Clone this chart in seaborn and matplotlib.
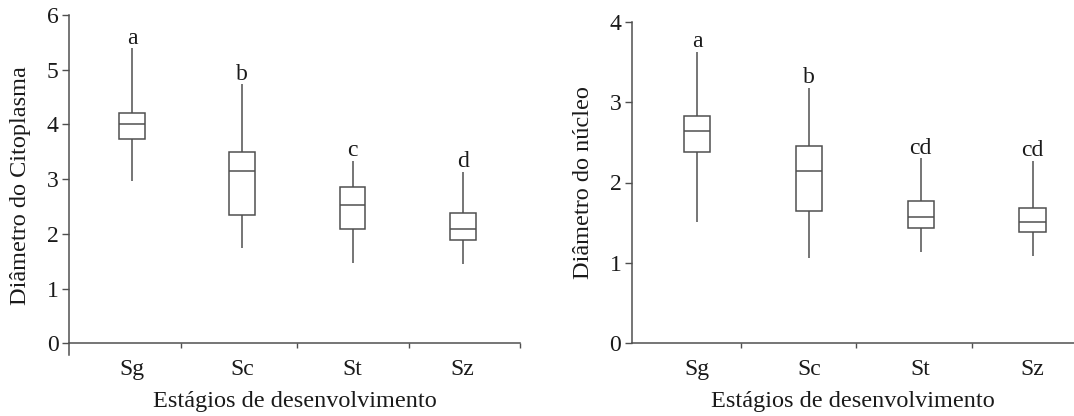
import numpy as np
import pandas as pd
import matplotlib
matplotlib.use("Agg")
import matplotlib.pyplot as plt
import seaborn as sns

# ---------------- data (five-number summaries: min, Q1, median, Q3, max) ----------------
stages = ["Sg", "Sc", "St", "Sz"]

cito_sg = [2.97, 3.74, 4.01, 4.21, 5.39]
cito_sc = [1.74, 2.35, 3.15, 3.50, 4.73]
cito_st = [1.46, 2.08, 2.52, 2.85, 3.33]
cito_sz = [1.44, 1.89, 2.08, 2.38, 3.13]
cito_letters = ["a", "b", "c", "d"]

nucl_sg = [1.51, 2.38, 2.64, 2.83, 3.62]
nucl_sc = [1.06, 1.65, 2.14, 2.45, 3.18]
nucl_st = [1.14, 1.44, 1.57, 1.77, 2.30]
nucl_sz = [1.09, 1.38, 1.51, 1.68, 2.27]
nucl_letters = ["a", "b", "cd", "cd"]

cito_yticks = [0, 1, 2, 3, 4, 5, 6]
nucl_yticks = [0, 1, 2, 3, 4]

xlabel = "Estágios de desenvolvimento"
cito_ylabel = "Diâmetro do Citoplasma"
nucl_ylabel = "Diâmetro do núcleo"


def long_form(groups):
    rows = []
    for st, vals in zip(stages, groups):
        for v in vals:
            rows.append({"stage": st, "value": v})
    return pd.DataFrame(rows)


cito_df = long_form([cito_sg, cito_sc, cito_st, cito_sz])
nucl_df = long_form([nucl_sg, nucl_sc, nucl_st, nucl_sz])

# ---------------- style ----------------
sns.set_theme(style="ticks")
plt.rcParams["font.family"] = ["Liberation Serif", "DejaVu Serif"]
LINE = "#4f4f4f"
TEXT = "#1a1a1a"
plt.rcParams["text.color"] = TEXT
plt.rcParams["axes.labelcolor"] = TEXT
plt.rcParams["xtick.color"] = LINE
plt.rcParams["ytick.color"] = LINE
plt.rcParams["xtick.labelcolor"] = TEXT
plt.rcParams["ytick.labelcolor"] = TEXT

W, H = 1074, 416
fig = plt.figure(figsize=(W / 100, H / 100), dpi=100)
fig.patch.set_facecolor("white")

ax1 = fig.add_axes([69.3 / W, 1 - 355.3 / H, (520 - 69.3) / W, (355.3 - 15) / H])
ax2 = fig.add_axes([632 / W, 1 - 343.3 / H, (1074 - 632) / W, (343.3 - 21.7) / H])


def draw(ax, df, groups, letters, yticks, ylim, xlim, minor, ylabel):
    sns.boxplot(data=df, x="stage", y="value", order=stages, ax=ax,
                whis=(0, 100), showfliers=False, showcaps=False,
                width=0.235, color="white", linecolor=LINE, linewidth=1.1)
    for i, (vals, lab) in enumerate(zip(groups, letters)):
        ax.annotate(lab, xy=(i, max(vals)), xytext=(0, 3.5),
                    textcoords="offset points", ha="center", va="baseline",
                    fontsize=17, color=TEXT)
    ax.set_xlim(*xlim)
    ax.set_ylim(*ylim)
    ax.set_yticks(yticks)
    ax.set_yticklabels([str(t) for t in yticks])
    ax.set_xticks(minor, minor=True)
    ax.tick_params(axis="x", which="major", length=0, pad=11.5, labelsize=17)
    ax.tick_params(axis="x", which="minor", length=3.6, width=1.0, direction="out")
    ax.tick_params(axis="y", length=4.7, width=1.0, pad=3, labelsize=17)
    ax.spines["top"].set_visible(False)
    ax.spines["right"].set_visible(False)
    for s in ("left", "bottom"):
        ax.spines[s].set_color(LINE)
        ax.spines[s].set_linewidth(1.1)
    ax.spines["bottom"].set_position(("data", 0))
    ax.set_xlabel(xlabel, fontsize=17.5, labelpad=8)
    ax.set_ylabel(ylabel, fontsize=17.5, labelpad=11)
    ax.set_facecolor("white")


draw(ax1, cito_df, [cito_sg, cito_sc, cito_st, cito_sz], cito_letters,
     cito_yticks, (-0.22, 6.0), (-0.57, 3.52), [0.44, 1.5, 2.51, 3.52], cito_ylabel)
draw(ax2, nucl_df, [nucl_sg, nucl_sc, nucl_st, nucl_sz], nucl_letters,
     nucl_yticks, (0, 4.0), (-0.58, 3.37), [0.39, 1.42, 2.46], nucl_ylabel)

fig.savefig("out.png", dpi=100, facecolor="white")
